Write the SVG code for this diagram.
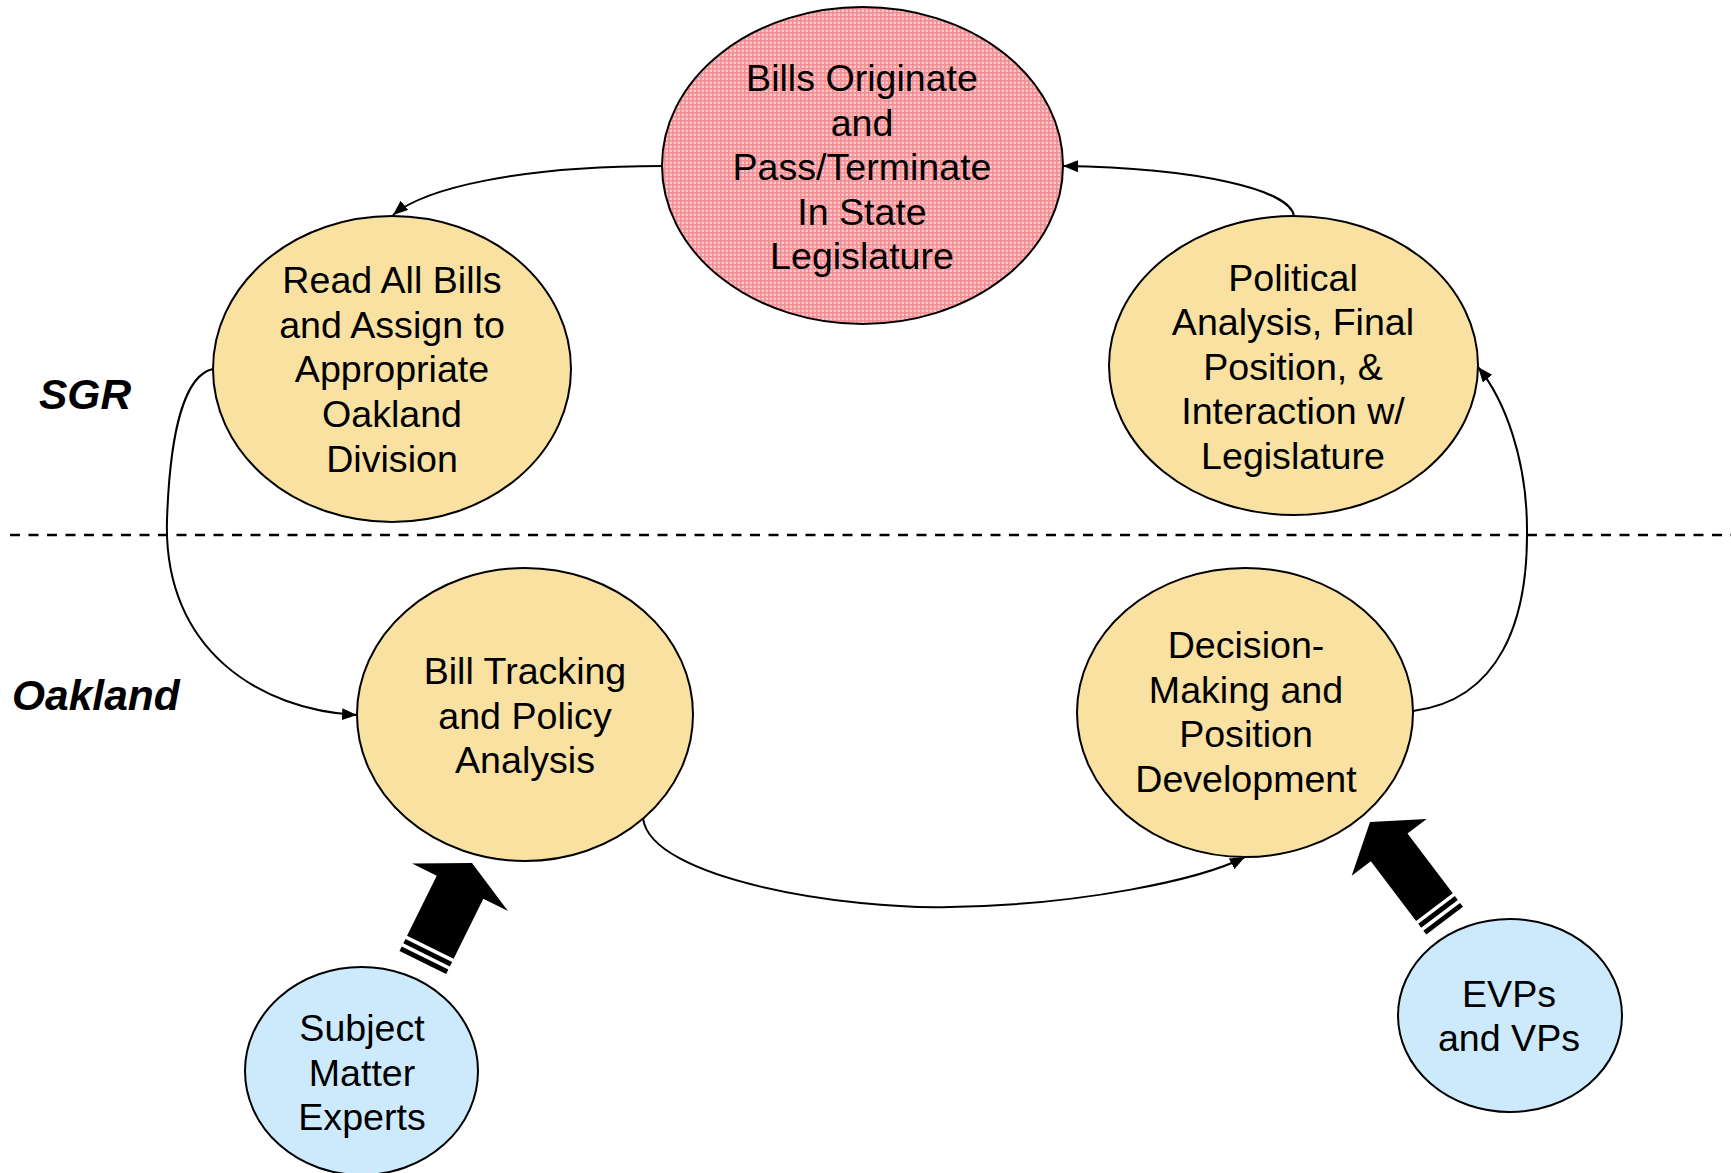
<svg xmlns="http://www.w3.org/2000/svg" width="1731" height="1173" viewBox="0 0 1731 1173">
  <style>
    .node { stroke: #000; stroke-width: 2; }
    .yellow { fill: #f9e1a2; }
    .blue { fill: #cdeafd; }
    .pink { fill: url(#pinkGrid); }
    .lbl { font-family: "Liberation Sans", Arial, sans-serif; font-size: 37.6px; fill: #000; text-anchor: middle; }
    .side { font-family: "Liberation Sans", Arial, sans-serif; font-size: 42.5px; font-weight: bold; font-style: italic; fill: #000; }
    .conn { fill: none; stroke: #000; stroke-width: 2; }
    .divider { fill: none; stroke: #000; stroke-width: 2.6; stroke-dasharray: 10 8.5; }
    .block { fill: #000; stroke: none; }
  </style>
  <defs>
    <pattern id="pinkGrid" width="4" height="4" patternUnits="userSpaceOnUse">
      <rect width="4" height="4" fill="#fbcacc"/>
      <rect width="1.6" height="4" fill="#f08e93"/>
      <rect width="4" height="1.6" fill="#f08e93"/>
    </pattern>
    <marker id="arr" markerUnits="userSpaceOnUse" markerWidth="16" markerHeight="13" refX="15" refY="6" orient="auto">
      <path d="M0,0 L15,6 L0,12 z" fill="#000"/>
    </marker>
  </defs>

  <rect width="1731" height="1173" fill="#fff"/>

  <line class="divider" x1="10" y1="535" x2="1731" y2="535"/>

  <text class="side" x="39" y="409">SGR</text>
  <text class="side" x="12" y="710">Oakland</text>

  <g id="connectors">
    <path class="conn" marker-end="url(#arr)" d="M662,166 C520,166 425,188 393,215"/>
    <path class="conn" marker-end="url(#arr)" d="M1294,216 C1290,190 1200,168 1063,166"/>
    <path class="conn" marker-end="url(#arr)" d="M213,369 C185,375 170,430 167,520 C163,650 260,710 357,715"/>
    <path class="conn" marker-end="url(#arr)" d="M643,818 C650,880 850,910 950,907 C1080,905 1200,880 1245,857"/>
    <path class="conn" marker-end="url(#arr)" d="M1413,711 C1500,700 1528,620 1527,530 C1527,460 1505,400 1478,367"/>
    <g id="block-arrow-sme" transform="translate(472,863) rotate(26.3)">
      <polygon class="block" points="0,0 53.5,27 26,27 26,94 -26,94 -26,27 -53.5,27"/>
      <rect class="block" x="-26" y="97.5" width="52" height="5"/>
      <rect class="block" x="-26" y="106" width="52" height="5"/>
    </g>
    <g id="block-arrow-evp" transform="translate(1370,822) rotate(-37.1)">
      <polygon class="block" points="0,0 47,31.8 23,31.8 23,106.8 -23,106.8 -23,31.8 -47,31.8"/>
      <rect class="block" x="-23" y="110.3" width="46" height="5"/>
      <rect class="block" x="-23" y="118.8" width="46" height="5"/>
    </g>
  </g>

  <g id="node-bills">
    <ellipse class="node pink" cx="862.5" cy="165.5" rx="200.5" ry="158.5"/>
    <text class="lbl" x="862" y="91">Bills Originate</text>
    <text class="lbl" x="862" y="135.5">and</text>
    <text class="lbl" x="862" y="180">Pass/Terminate</text>
    <text class="lbl" x="862" y="224.5">In State</text>
    <text class="lbl" x="862" y="269">Legislature</text>
  </g>

  <g id="node-read">
    <ellipse class="node yellow" cx="392" cy="369" rx="179" ry="153"/>
    <text class="lbl" x="392" y="293">Read All Bills</text>
    <text class="lbl" x="392" y="337.7">and Assign to</text>
    <text class="lbl" x="392" y="382.4">Appropriate</text>
    <text class="lbl" x="392" y="427">Oakland</text>
    <text class="lbl" x="392" y="471.7">Division</text>
  </g>

  <g id="node-political">
    <ellipse class="node yellow" cx="1293.5" cy="365.5" rx="184.5" ry="149.5"/>
    <text class="lbl" x="1293" y="290.5">Political</text>
    <text class="lbl" x="1293" y="335">Analysis, Final</text>
    <text class="lbl" x="1293" y="379.5">Position, &amp;</text>
    <text class="lbl" x="1293" y="424">Interaction w/</text>
    <text class="lbl" x="1293" y="468.5">Legislature</text>
  </g>

  <g id="node-tracking">
    <ellipse class="node yellow" cx="525" cy="714.5" rx="168" ry="146.5"/>
    <text class="lbl" x="525" y="684">Bill Tracking</text>
    <text class="lbl" x="525" y="728.5">and Policy</text>
    <text class="lbl" x="525" y="773">Analysis</text>
  </g>

  <g id="node-decision">
    <ellipse class="node yellow" cx="1245" cy="712.5" rx="168" ry="144.5"/>
    <text class="lbl" x="1246" y="658">Decision-</text>
    <text class="lbl" x="1246" y="702.7">Making and</text>
    <text class="lbl" x="1246" y="747.4">Position</text>
    <text class="lbl" x="1246" y="792">Development</text>
  </g>

  <g id="node-sme">
    <ellipse class="node blue" cx="361.5" cy="1071" rx="116.5" ry="104"/>
    <text class="lbl" x="362" y="1041">Subject</text>
    <text class="lbl" x="362" y="1085.5">Matter</text>
    <text class="lbl" x="362" y="1130">Experts</text>
  </g>

  <g id="node-evp">
    <ellipse class="node blue" cx="1510" cy="1015.5" rx="112" ry="96.5"/>
    <text class="lbl" x="1509" y="1006.5">EVPs</text>
    <text class="lbl" x="1509" y="1051">and VPs</text>
  </g>
</svg>
